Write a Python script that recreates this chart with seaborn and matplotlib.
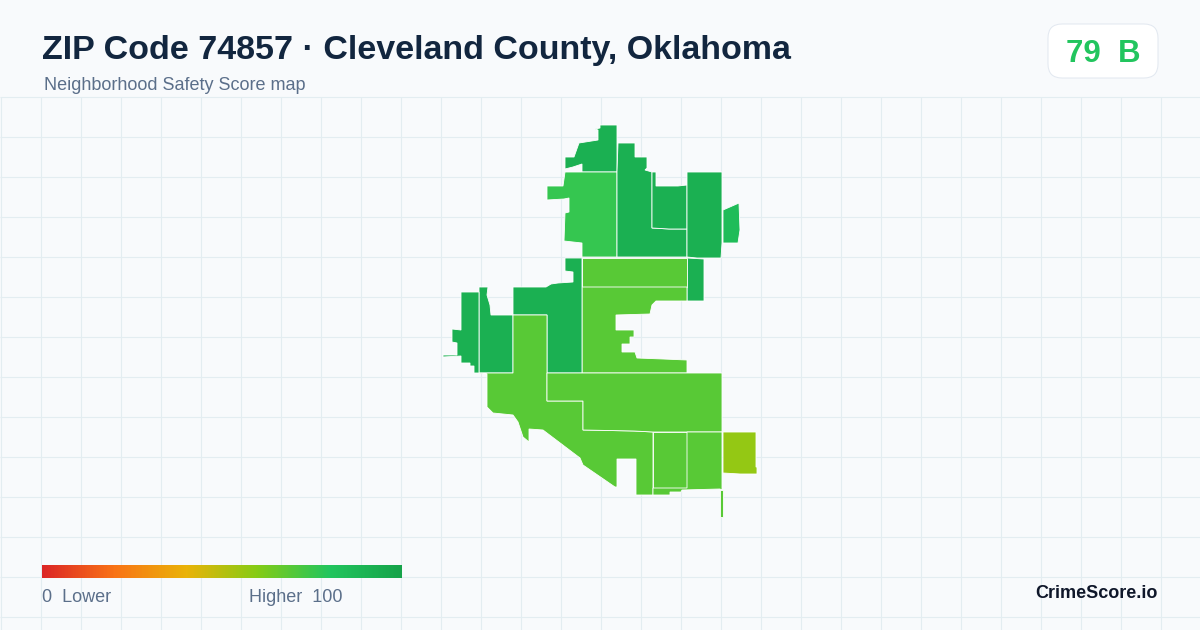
import numpy as np
import matplotlib
matplotlib.use("Agg")
import matplotlib.pyplot as plt
from matplotlib.patches import Polygon, FancyBboxPatch
import seaborn as sns

title = "ZIP Code 74857 · Cleveland County, Oklahoma"
subtitle = "Neighborhood Safety Score map"
score_label = "79  B"
brand = "CrimeScore.io"
legend_low = "0  Lower"
legend_high = "Higher  100"
ramp_colors = ["#dc2626", "#f97316", "#eab308", "#84cc16", "#22c55e", "#16a34a"]

# Area outlines, with their safety scores
north_top = [(600,125),(617,125),(617,172),(582,172),(582,164),(573,167),(565,169),(565,157),(574,157),(579,143),(598,140),(598,130),(595,129),(600,128)]
northwest = [(565,172),(617,172),(617,257),(582,257),(582,243),(564,241),(565,213),(569,212),(569,198),(564,199),(547,200),(547,186),(563,186)]
north_mid = [(618,143),(635,143),(635,157),(647,157),(647,168),(645,170),(652,172),(652,228),(669,229),(687,229),(687,257),(617,257),(617,172)]
inner_north = [(652,172),(656,172),(656,186),(678,186),(687,185),(687,229),(669,229),(652,228)]
northeast = [(687,172),(722,172),(722,243),(721,258),(697,258),(687,257),(687,229)]
east_tab = [(723,210),(739,203),(740,230),(738,243),(723,243)]
east_strip = [(687,258),(704,259),(704,301),(687,301)]
mid_band = [(582,258),(687,258),(687,287),(582,287)]
mid_block = [(582,287),(687,287),(687,301),(656,301),(652,305),(650,314),(616,315),(616,330),(634,330),(634,337),(630,337),(630,344),(622,344),(622,352),(635,352),(637,358),(663,359),(687,360),(687,373),(635,373),(617,373),(582,373)]
west_mid = [(565,258),(582,258),(582,315),(582,373),(547,373),(547,315),(530,315),(513,315),(513,287),(546,287),(551,284),(558,283),(573,282),(573,272),(565,271)]
west_inner = [(479,287),(488,287),(487,295),(490,305),(491,315),(513,315),(513,373),(479,373)]
far_west = [(461,292),(479,292),(479,373),(474,373),(474,366),(470,366),(470,363),(461,363),(461,356),(443,357),(443,355),(457,355),(457,343),(452,342),(452,329),(461,330)]
southwest = [(479,373),(513,373),(513,315),(547,315),(547,401),(583,401),(583,430),(634,431),(653,432),(653,495),(636,495),(636,459),(617,459),(617,487),(615,487),(583,465),(580,458),(543,430),(529,429),(529,442),(523,437),(518,422),(513,415),(493,413),(487,407),(487,374)]
south_band = [(547,373),(722,373),(722,432),(653,432),(634,431),(583,430),(583,401),(547,401)]
south_inner = [(653,432),(687,432),(687,488),(653,488)]
south_east = [(687,432),(722,432),(722,490),(720,489),(682,490),(681,492),(670,492),(670,495),(653,495),(653,488),(687,488)]
south_sliver = [(720.3,490),(722.7,490),(722.7,517),(720.3,517)]
far_southeast = [(723,432),(756,432),(756,467),(757,467),(757,474),(740,474),(723,473)]

areas = [north_top, northwest, north_mid, inner_north, northeast, east_tab, east_strip,
         mid_band, mid_block, west_mid, west_inner, far_west, southwest, south_band,
         south_inner, south_east, south_sliver, far_southeast]
scores = [92, 76, 92, 92, 92, 85, 92, 69, 69, 92, 92, 92, 69, 69, 69, 69, 69, 57]

sns.set_theme(style="white")
plt.rcParams["font.family"] = ["Liberation Sans", "DejaVu Sans"]
cmap = sns.blend_palette(ramp_colors, as_cmap=True)

BG = "#f8fafc"
GRID = "#e3edf1"
fig = plt.figure(figsize=(12, 6.3), dpi=100, facecolor=BG)
ax = fig.add_axes([0, 0, 1, 1])
ax.set_xlim(0, 1200)
ax.set_ylim(630, 0)
ax.axis("off")

ax.vlines(np.arange(0, 1200, 40) + 0.5, 97, 630, color=GRID, lw=0.8, zorder=1)
ax.hlines(np.arange(97, 630, 40) - 0.5, 0, 1200, color=GRID, lw=0.8, zorder=1)

for outline, score in zip(areas, scores):
    ax.add_patch(Polygon(outline, closed=True, facecolor=cmap(score / 100),
                         edgecolor="white", lw=0.6, joinstyle="miter", zorder=2))

ramp = np.linspace(0, 1, 360)[None, :]
ax.imshow(ramp, cmap=cmap, extent=(42, 402, 578, 565), aspect="auto", zorder=3)
ax.set_xlim(0, 1200)
ax.set_ylim(630, 0)

ax.text(42, 50, title, fontsize=24.45, fontweight="bold", color="#12263f", va="center", ha="left")
ax.text(44, 86, subtitle, fontsize=12.95, color="#5b6f8a", va="center", ha="left")
ax.text(42, 598, legend_low, fontsize=13, color="#5b6f8a", va="center", ha="left")
ax.text(249, 598, legend_high, fontsize=13, color="#5b6f8a", va="center", ha="left")
ax.text(1158, 594, brand, fontsize=13, fontweight="bold", color="#0f172a", va="center", ha="right")

ax.add_patch(FancyBboxPatch((1062, 38), 82, 26, boxstyle="round,pad=14,rounding_size=14",
                            facecolor="white", edgecolor="#e2e8f0", lw=0.72, zorder=3))
ax.text(1103, 53.5, score_label, fontsize=22.5, fontweight="bold", color="#22c55e",
        va="center", ha="center", zorder=4)

fig.savefig("out.png", dpi=100, facecolor=BG)
